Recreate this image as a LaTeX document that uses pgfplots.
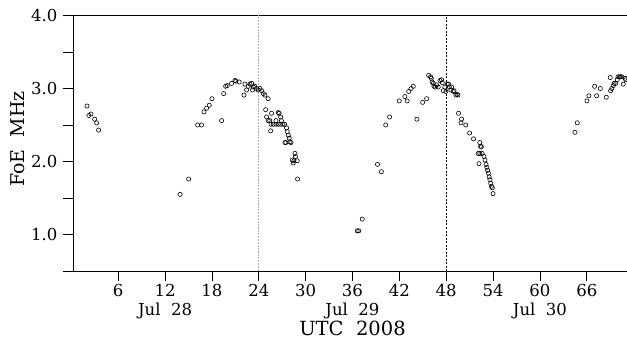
\documentclass[border=0pt]{standalone}
\usepackage{pgfplots}
\pgfplotsset{compat=1.18}
\usepackage{fontspec}
\setmainfont{DejaVu Serif}

% FoE soundings: hours since 00 UTC on 27 Jul 2008, critical frequency in MHz
\pgfplotstableread{
x y
2.00 2.76
2.25 2.63
2.51 2.65
2.98 2.58
3.24 2.53
3.49 2.43
13.93 1.55
15.02 1.76
16.17 2.50
16.68 2.50
16.98 2.68
17.32 2.73
17.66 2.77
18.00 2.86
19.24 2.56
19.50 2.93
19.76 3.03
19.96 3.04
20.52 3.07
20.95 3.11
21.07 3.10
21.50 3.09
22.10 2.91
22.23 3.06
22.44 2.98
22.65 3.03
22.87 3.06
23.08 3.07
23.20 2.98
23.30 3.02
23.50 3.03
23.72 3.00
23.93 2.98
24.15 3.00
24.37 2.97
24.58 2.93
24.79 2.91
25.20 2.86
24.88 2.71
25.00 2.61
25.20 2.56
25.40 2.56
25.52 2.42
25.64 2.66
25.56 2.51
25.85 2.51
26.20 2.51
26.50 2.51
26.80 2.51
27.10 2.51
26.20 2.56
26.50 2.67
26.60 2.66
26.80 2.61
26.90 2.56
27.30 2.51
27.56 2.46
27.65 2.41
27.78 2.36
27.90 2.32
27.99 2.27
27.35 2.26
27.47 2.26
28.12 2.26
28.63 2.11
28.70 2.07
28.29 2.02
28.42 1.98
28.50 2.01
28.93 2.01
28.97 1.76
36.60 1.05
36.80 1.05
37.25 1.21
39.20 1.96
39.70 1.86
40.25 2.50
40.75 2.61
41.99 2.83
42.70 2.89
43.00 2.83
43.20 2.96
43.50 3.00
43.78 3.03
44.25 2.58
44.98 2.81
45.49 2.86
45.75 3.18
46.00 3.16
46.10 3.14
46.20 3.09
46.34 3.07
46.43 3.03
46.64 3.02
46.77 3.05
46.98 3.02
47.20 3.11
47.40 3.12
47.50 3.08
47.62 2.97
47.83 3.02
47.96 2.96
48.13 3.06
48.30 3.06
48.40 3.02
48.60 2.98
48.70 3.02
48.90 2.96
49.00 2.97
49.24 2.91
49.40 2.92
49.50 2.91
49.58 2.66
49.97 2.58
49.90 2.53
50.50 2.50
51.00 2.39
51.50 2.31
52.30 2.26
52.40 2.21
52.50 2.20
52.10 2.11
52.30 2.11
52.60 2.11
52.20 1.97
52.83 2.07
52.96 2.02
53.10 1.96
53.20 1.92
53.30 1.88
53.40 1.84
53.50 1.79
53.60 1.75
53.70 1.70
53.80 1.66
53.90 1.64
54.00 1.56
64.48 2.40
64.78 2.53
66.02 2.83
66.27 2.90
67.00 3.03
67.26 2.90
67.73 3.00
68.50 2.88
69.00 3.15
69.05 2.97
69.20 3.00
69.40 3.04
69.50 3.07
69.70 3.07
69.90 3.12
70.00 3.16
70.20 3.16
70.30 3.16
70.50 3.16
70.67 3.06
70.90 3.14
71.00 3.12
}\foetable

\begin{document}
\begin{tikzpicture}
\begin{axis}[
  scale only axis,
  width=553.7pt, height=255.5pt,
  xmin=0.25, xmax=71.15, ymin=0.5, ymax=4.0,
  axis x line=box, axis y line=left,
  y axis line style={-},
  axis line style={line width=0.6pt},
  xtick={6,12,...,66}, xtick pos=bottom,
  ytick={1,2,3,4}, minor ytick={0.5,1.5,2.5,3.5},
  yticklabel style={xshift=-2.5pt, /pgf/number format/.cd, fixed, fixed zerofill, precision=1},
  tick align=outside,
  major tick length=10pt, minor tick length=10pt,
  tick style={black, line width=0.6pt},
  ticklabel style={font=\fontsize{16.5}{18}\selectfont},
  /pgf/number format/assume math mode=true,
  clip mode=individual,
]
\draw[gray!60, line width=0.8pt, dash pattern=on 2pt off 1pt]
  (axis cs:24,0.5) -- (axis cs:24,4.0);
\draw[black, line width=0.5pt, dash pattern=on 2pt off 1.5pt]
  (axis cs:48,0.5) -- (axis cs:48,4.0);
\addplot[only marks, mark=o, mark size=2.1pt, mark options={line width=0.6pt, black}]
  table[x=x, y=y] {\foetable};
\coordinate (d28) at (axis cs:12,0.5);
\coordinate (d29) at (axis cs:36,0.5);
\coordinate (d30) at (axis cs:60,0.5);
\coordinate (ylab) at (rel axis cs:0,0.517);
\end{axis}
\node[font=\fontsize{16.5}{18}\selectfont] at ([yshift=-40pt]d28) {Jul\ \ 28};
\node[font=\fontsize{16.5}{18}\selectfont] at ([yshift=-40pt]d29) {Jul\ \ 29};
\node[font=\fontsize{16.5}{18}\selectfont] at ([yshift=-40pt]d30) {Jul\ \ 30};
\node[font=\fontsize{19.5}{22}\selectfont] at ([yshift=-57pt]d29) {UTC\ \ 2008};
\node[rotate=90, font=\fontsize{19}{22}\selectfont] at ([xshift=-55.3pt]ylab) {FoE\ \ MHz};
\pgfresetboundingbox
\path (current axis.south west) ++(-73.3pt,-72pt) rectangle ++(627pt,343pt);
\end{tikzpicture}
\end{document}
